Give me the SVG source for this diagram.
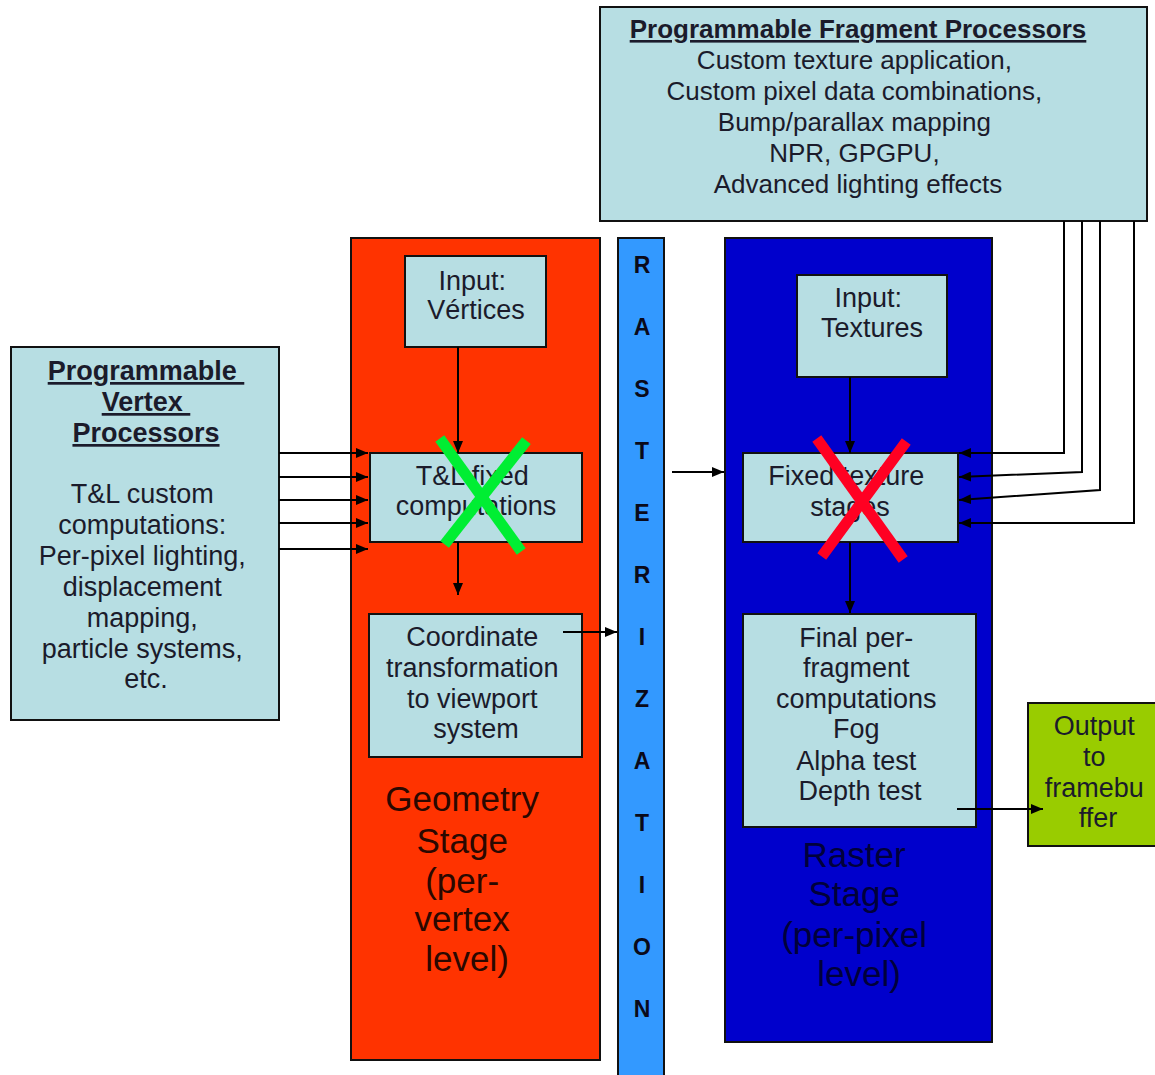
<svg xmlns="http://www.w3.org/2000/svg" width="1155" height="1075" viewBox="0 0 1155 1075">
  <defs>
    <marker id="arrow" viewBox="0 0 12 10" refX="12" refY="5" markerWidth="12" markerHeight="10" markerUnits="userSpaceOnUse" orient="auto">
      <path d="M0,0 L12,5 L0,10 z" fill="#000"/>
    </marker>
    <style>
      .box { fill: #b7dee3; stroke: #111; stroke-width: 2; }
      .t { font-family: "Liberation Sans", Arial, sans-serif; font-size: 27px; fill: #1b1b2b; text-anchor: middle; }
      .tf { font-size: 26px; }
      .b { font-weight: bold; text-decoration: underline; }
      .stage { font-family: "Liberation Sans", Arial, sans-serif; font-size: 35px; text-anchor: middle; }
      .ras { font-family: "Liberation Sans", Arial, sans-serif; font-size: 23px; font-weight: bold; fill: #0a0a1a; text-anchor: middle; }
      .edge { fill: none; stroke: #000; stroke-width: 2; }
      .cross { stroke-width: 11; stroke-linecap: square; fill: none; }
    </style>
  </defs>

  <rect width="1155" height="1075" fill="#fff"/>

  <!-- Geometry stage background -->
  <g id="geometry-stage">
    <rect x="351" y="238" width="249" height="822" fill="#ff3300" stroke="#111" stroke-width="2"/>
    <text class="stage" fill="#2a0800">
      <tspan x="467" y="811">Geometry</tspan>
      <tspan x="467" y="853">Stage</tspan>
      <tspan x="467" y="893">(per-</tspan>
      <tspan x="467" y="931">vertex</tspan>
      <tspan x="467" y="971">level)</tspan>
    </text>
  </g>

  <!-- Rasterization strip -->
  <g id="rasterization">
    <rect x="618" y="238" width="46" height="845" fill="#3399ff" stroke="#111" stroke-width="2"/>
    <text class="ras" x="642" y="273">R</text>
    <text class="ras" x="642" y="335">A</text>
    <text class="ras" x="642" y="397">S</text>
    <text class="ras" x="642" y="459">T</text>
    <text class="ras" x="642" y="521">E</text>
    <text class="ras" x="642" y="583">R</text>
    <text class="ras" x="642" y="645">I</text>
    <text class="ras" x="642" y="707">Z</text>
    <text class="ras" x="642" y="769">A</text>
    <text class="ras" x="642" y="831">T</text>
    <text class="ras" x="642" y="893">I</text>
    <text class="ras" x="642" y="955">O</text>
    <text class="ras" x="642" y="1017">N</text>
  </g>

  <!-- Raster stage background -->
  <g id="raster-stage">
    <rect x="725" y="238" width="267" height="804" fill="#0000cc" stroke="#111" stroke-width="2"/>
    <text class="stage" fill="#00003a">
      <tspan x="859" y="867">Raster</tspan>
      <tspan x="859" y="906">Stage</tspan>
      <tspan x="859" y="947">(per-pixel</tspan>
      <tspan x="859" y="986">level)</tspan>
    </text>
  </g>

  <g id="fragment-processors">
    <rect class="box" x="600" y="7" width="547" height="214"/>
    <text class="t tf b" x="858" y="38">Programmable Fragment Processors</text>
    <text class="t tf">
      <tspan x="858" y="69">Custom texture application,</tspan>
      <tspan x="858" y="100">Custom pixel data combinations,</tspan>
      <tspan x="858" y="131">Bump/parallax mapping</tspan>
      <tspan x="858" y="162">NPR, GPGPU,</tspan>
      <tspan x="858" y="193">Advanced lighting effects</tspan>
    </text>
  </g>

  <g id="vertex-processors">
    <rect class="box" x="11" y="347" width="268" height="373"/>
    <text class="t b">
      <tspan x="146" y="380">Programmable </tspan>
      <tspan x="146" y="411">Vertex </tspan>
      <tspan x="146" y="442">Processors</tspan>
    </text>
    <text class="t">
      <tspan x="146" y="503">T&amp;L custom</tspan>
      <tspan x="146" y="534">computations:</tspan>
      <tspan x="146" y="565">Per-pixel lighting,</tspan>
      <tspan x="146" y="596">displacement</tspan>
      <tspan x="146" y="627">mapping,</tspan>
      <tspan x="146" y="658">particle systems,</tspan>
      <tspan x="146" y="688">etc.</tspan>
    </text>
  </g>

  <g id="input-vertices">
    <rect class="box" x="405" y="256" width="141" height="91"/>
    <text class="t">
      <tspan x="476" y="290">Input:</tspan>
      <tspan x="476" y="319">Vértices</tspan>
    </text>
  </g>

  <g id="tl-fixed">
    <rect class="box" x="370" y="453" width="212" height="89"/>
    <text class="t">
      <tspan x="476" y="485">T&amp;L fixed</tspan>
      <tspan x="476" y="515">computations</tspan>
    </text>
  </g>

  <g id="coordinate-transform">
    <rect class="box" x="369" y="614" width="213" height="143"/>
    <text class="t">
      <tspan x="476" y="646">Coordinate</tspan>
      <tspan x="476" y="677">transformation</tspan>
      <tspan x="476" y="708">to viewport</tspan>
      <tspan x="476" y="738">system</tspan>
    </text>
  </g>

  <g id="input-textures">
    <rect class="box" x="797" y="275" width="150" height="102"/>
    <text class="t">
      <tspan x="872" y="307">Input:</tspan>
      <tspan x="872" y="337">Textures</tspan>
    </text>
  </g>

  <g id="fixed-texture">
    <rect class="box" x="743" y="453" width="215" height="89"/>
    <text class="t">
      <tspan x="850" y="485">Fixed texture</tspan>
      <tspan x="850" y="516">stages</tspan>
    </text>
  </g>

  <g id="final-fragment">
    <rect class="box" x="743" y="614" width="233" height="213"/>
    <text class="t">
      <tspan x="860" y="647">Final per-</tspan>
      <tspan x="860" y="677">fragment</tspan>
      <tspan x="860" y="708">computations</tspan>
      <tspan x="860" y="738">Fog</tspan>
      <tspan x="860" y="770">Alpha test</tspan>
      <tspan x="860" y="800">Depth test</tspan>
    </text>
  </g>

  <g id="output">
    <rect x="1028" y="703" width="130" height="143" fill="#99cc00" stroke="#111" stroke-width="2"/>
    <text class="t" fill="#1a2a00">
      <tspan x="1098" y="735">Output</tspan>
      <tspan x="1098" y="766">to</tspan>
      <tspan x="1098" y="797">framebu</tspan>
      <tspan x="1098" y="827">ffer</tspan>
    </text>
  </g>

  <g id="connectors">
    <!-- vertex processors into T&L -->
    <line class="edge" x1="279" y1="453" x2="368" y2="453" marker-end="url(#arrow)"/>
    <line class="edge" x1="279" y1="477" x2="368" y2="477" marker-end="url(#arrow)"/>
    <line class="edge" x1="279" y1="500" x2="368" y2="500" marker-end="url(#arrow)"/>
    <line class="edge" x1="279" y1="523" x2="368" y2="523" marker-end="url(#arrow)"/>
    <line class="edge" x1="279" y1="549" x2="368" y2="549" marker-end="url(#arrow)"/>
    <!-- geometry pipeline -->
    <line class="edge" x1="458" y1="347" x2="458" y2="453" marker-end="url(#arrow)"/>
    <line class="edge" x1="458" y1="542" x2="458" y2="595" marker-end="url(#arrow)"/>
    <line class="edge" x1="563" y1="632" x2="617" y2="632" marker-end="url(#arrow)"/>
    <!-- rasterization into raster stage -->
    <line class="edge" x1="672" y1="472" x2="724" y2="472" marker-end="url(#arrow)"/>
    <!-- raster pipeline -->
    <line class="edge" x1="850" y1="377" x2="850" y2="453" marker-end="url(#arrow)"/>
    <line class="edge" x1="850" y1="542" x2="850" y2="613" marker-end="url(#arrow)"/>
    <line class="edge" x1="957" y1="809" x2="1043" y2="809" marker-end="url(#arrow)"/>
    <!-- fragment processors into fixed texture stages -->
    <polyline class="edge" points="1064,221 1064,453 959,453" marker-end="url(#arrow)"/>
    <polyline class="edge" points="1082,221 1082,472 959,477" marker-end="url(#arrow)"/>
    <polyline class="edge" points="1100,221 1100,490 959,500" marker-end="url(#arrow)"/>
    <polyline class="edge" points="1134,221 1134,523 959,523" marker-end="url(#arrow)"/>
  </g>

  <!-- crossed-out fixed function stages -->
  <g id="green-cross" class="cross" stroke="#00ee33">
    <line x1="443" y1="443" x2="518" y2="547"/>
    <line x1="523" y1="445" x2="448" y2="540"/>
  </g>
  <g id="red-cross" class="cross" stroke="#ff0022">
    <line x1="820" y1="443" x2="900" y2="555"/>
    <line x1="903" y1="446" x2="825" y2="552"/>
  </g>
</svg>
